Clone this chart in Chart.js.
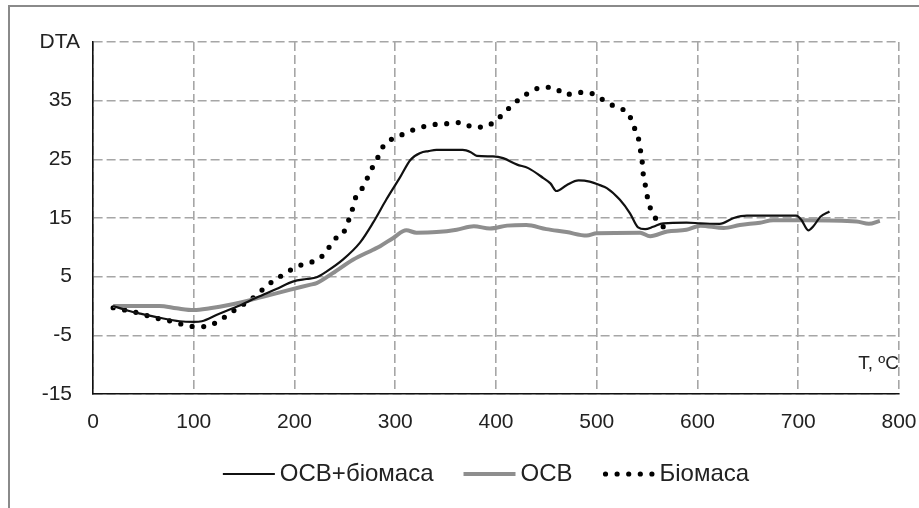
<!DOCTYPE html>
<html>
<head>
<meta charset="utf-8">
<script src="https://cdn.jsdelivr.net/npm/chart.js@4.4.1/dist/chart.umd.min.js"></script>
<style>
  html, body { margin: 0; padding: 0; background: #fff; overflow: hidden; }
  #wrap { position: relative; width: 919px; height: 508px; overflow: hidden; }
  #c { position: absolute; left: 0; top: 0; }
  #frame { position: absolute; left: 8px; top: 5px; width: 2000px; height: 2000px;
           border-left: 2px solid #8a8a8a; border-top: 2px solid #8a8a8a; pointer-events: none; }
</style>
</head>
<body>
<div id="wrap">
  <canvas id="c" width="919" height="508"></canvas>
  <div id="frame"></div>
</div>
<script>
// ---- data ----
const seriesNames = ['ОСВ+біомаса', 'ОСВ', 'Біомаса'];
const yAxisTitle = 'DTA';
const xAxisTitle = 'T, ºC';

const mixT = [20,35,47,66,86,100,108,123,143,162,182,199,212,222,232,248,265,278,291,305,315,325,333,341,367,375,381,397,407,421,432,447,454,460,470,482,493,503,510,523,533,541,548,556,566,589,603,622,636,649,675,698,703,710,715,722,731];
const mixDTA = [0,-0.8,-1.3,-2.0,-2.6,-2.7,-2.6,-1.5,-0.1,1.4,2.9,4.2,4.6,4.9,5.9,7.9,10.8,14.2,18.1,22,24.9,26.1,26.4,26.6,26.6,26.2,25.6,25.5,25.2,24.1,23.5,21.8,20.9,19.6,20.6,21.4,21.2,20.6,20.1,18.1,15.8,13.4,13.1,13.5,14.1,14.2,14.1,14.0,15,15.4,15.4,15.4,14.7,12.9,13.6,15.2,16.1];

const ocbT = [20,66,83,100,116,136,156,176,196,215,222,238,258,278,285,298,311,321,341,361,378,394,411,430,450,470,490,500,543,553,570,589,603,626,642,662,675,708,758,770,781];
const ocbDTA = [0,0,-0.4,-0.7,-0.4,0.2,1.0,1.9,2.8,3.6,3.9,5.6,7.9,9.6,10.2,11.6,12.9,12.5,12.6,13,13.6,13.2,13.7,13.8,13.1,12.6,12,12.4,12.5,11.9,12.7,13,13.7,13.3,13.8,14.2,14.6,14.6,14.4,14,14.5];

const bioT = [20,32,43,55,66,78,90,101,113,124,134,143,154,164,172,182,192,202,213,224,232,239,248,253,257,260,267,272,277,283,288,297,308,319,331,342,354,366,377,388,399,408,417,426,436,447,459,469,480,491,501,511,522,532,536,541,543,545,546,548,550,553,559,566];
const bioDTA = [-0.3,-0.7,-1.1,-1.7,-2.2,-2.6,-3.2,-3.5,-3.5,-2.6,-1.5,-0.4,0.8,2.1,3.4,4.6,5.7,6.7,7.3,8.0,9.4,11.3,12.3,14.3,16.2,18.2,20,21.7,23.5,25.4,27.2,28.5,29.3,30.1,30.7,31,31.1,31.3,30.5,30.5,31.5,32.9,34.4,35.6,36.7,37.3,37.1,36,36.4,36.4,35.7,34.6,33.7,32.7,30.8,28.9,26.9,24.8,22.7,20.8,18.8,16.8,14.8,13.5];

const xTicks = [0,100,200,300,400,500,600,700,800];
const yTicks = [-15,-5,5,15,25,35,45];

// ---- build ----
const toXY = (xs, ys) => xs.map((x, i) => ({x, y: ys[i]}));
const FONT = '"Liberation Sans", Arial, sans-serif';

const extraText = {
  id: 'extraText',
  afterDraw(chart) {
    const ctx = chart.ctx;
    const ys = chart.scales.y, xs = chart.scales.x;
    ctx.save();
    ctx.fillStyle = '#222';
    ctx.textBaseline = 'middle';
    ctx.textAlign = 'right';
    ctx.font = '21px ' + FONT;
    ctx.fillText(yAxisTitle, 80, ys.getPixelForValue(45));
    ctx.font = '19px ' + FONT;
    ctx.fillText(xAxisTitle, xs.getPixelForValue(800), 364);

    // legend
    ctx.font = '24px ' + FONT;
    const sample = 52, gapTxt = 5, gapItem = 30;
    const widths = chart.data.datasets.map(d => sample + gapTxt + ctx.measureText(d.label).width);
    const total = widths.reduce((a, b) => a + b, 0) + gapItem * (widths.length - 1);
    let x = 486 - total / 2;
    const y = 474;
    chart.data.datasets.forEach((d, i) => {
      ctx.save();
      ctx.strokeStyle = d.borderColor;
      ctx.lineWidth = d.borderWidth;
      ctx.lineCap = d.borderCapStyle || 'butt';
      ctx.setLineDash(d.borderDash || []);
      ctx.beginPath();
      if (d.borderDash && d.borderDash.length) {
        ctx.moveTo(x + 3, y); ctx.lineTo(x + sample, y);
      } else {
        ctx.moveTo(x, y); ctx.lineTo(x + sample, y);
      }
      ctx.stroke();
      ctx.restore();
      ctx.fillStyle = '#222';
      ctx.textAlign = 'left';
      ctx.fillText(d.label, x + sample + gapTxt, y);
      x += widths[i] + gapItem;
    });
    ctx.restore();
  }
};

new Chart(document.getElementById('c'), {
  type: 'line',
  data: {
    datasets: [
      { label: seriesNames[0], data: toXY(mixT, mixDTA), borderColor: '#111', borderWidth: 2.2,
        pointRadius: 0, cubicInterpolationMode: 'monotone', fill: false },
      { label: seriesNames[1], data: toXY(ocbT, ocbDTA), borderColor: '#8e8e8e', borderWidth: 4,
        pointRadius: 0, cubicInterpolationMode: 'monotone', fill: false },
      { label: seriesNames[2], data: toXY(bioT, bioDTA), borderColor: '#000', borderWidth: 5.2,
        borderDash: [0, 11.6], borderCapStyle: 'round',
        pointRadius: 0, cubicInterpolationMode: 'monotone', fill: false }
    ]
  },
  options: {
    responsive: false,
    animation: false,
    events: [],
    layout: { padding: { left: 0, right: 20, top: 42, bottom: 0 } },
    plugins: { legend: { display: false }, tooltip: { enabled: false } },
    scales: {
      x: {
        type: 'linear', min: 0, max: 800,
        afterBuildTicks: s => { s.ticks = xTicks.map(v => ({value: v})); },
        afterFit: s => { s.height = 114; s.paddingLeft = 0; s.paddingRight = 0; },
        ticks: { font: { size: 21, family: FONT }, color: '#222', padding: 16, maxRotation: 0 },
        grid: { color: '#a6a6a6', lineWidth: 1.6, drawTicks: false },
        border: { display: true, color: '#111', width: 1.6, dash: [9, 4] }
      },
      y: {
        type: 'linear', min: -15, max: 45,
        afterBuildTicks: s => { s.ticks = yTicks.map(v => ({value: v})); },
        afterFit: s => { s.width = 93; s.paddingTop = 0; s.paddingBottom = 0; },
        ticks: { font: { size: 21, family: FONT }, color: '#222', padding: 21,
                 callback: v => (v === 45 ? '' : v) },
        grid: { color: '#a6a6a6', lineWidth: 1.6, drawTicks: false },
        border: { display: true, color: '#111', width: 1.6, dash: [9, 4] }
      }
    }
  },
  plugins: [extraText]
});
</script>
</body>
</html>
